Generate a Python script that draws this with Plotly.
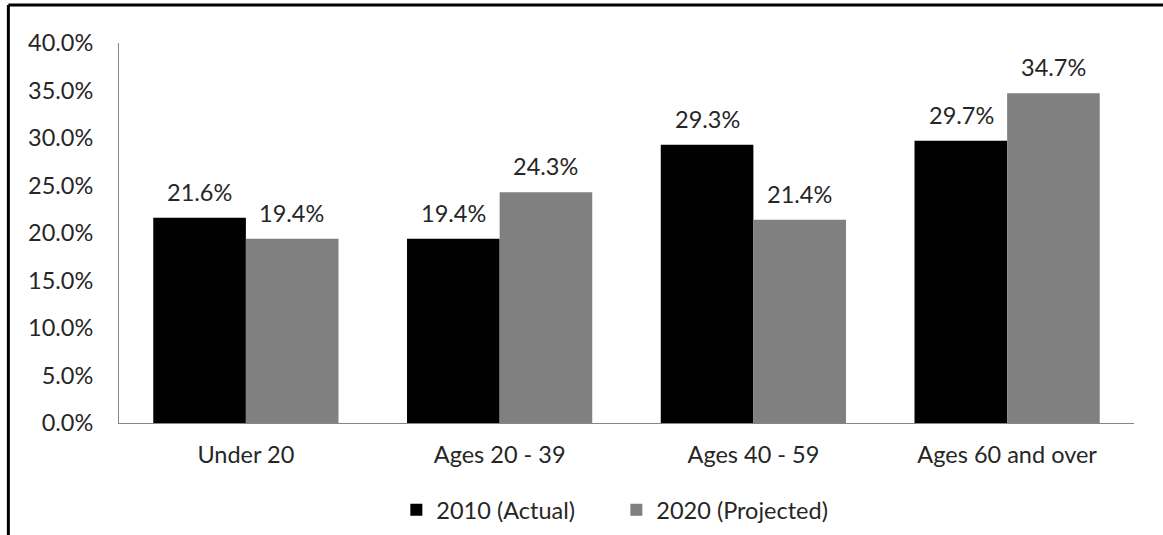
import plotly.graph_objects as go

categories = ["Under 20", "Ages 20 - 39", "Ages 40 - 59", "Ages 60 and over"]
series_names = ["2010 (Actual)", "2020 (Projected)"]
values_2010 = [21.6, 19.4, 29.3, 29.7]
values_2020 = [19.4, 24.3, 21.4, 34.7]
colors = ["#000000", "#808080"]
y_ticks = [0, 5, 10, 15, 20, 25, 30, 35, 40]
y_tick_labels = [f"{v:.1f}%" for v in y_ticks]

FONT = "Lato"
FS = 23.5
TXT = "#262626"

fig = go.Figure()
for name, vals, col in zip(series_names, [values_2010, values_2020], colors):
    fig.add_trace(go.Bar(
        x=categories, y=vals, name=name,
        marker=dict(color=col, line=dict(width=0)),
        text=[f"{v:.1f}%" for v in vals],
        textposition="none",
        hoverinfo="x+y",
    ))

annotations = []
for i, vals in enumerate([values_2010, values_2020]):
    shift = -46 if i == 0 else 46
    for c, v in zip(categories, vals):
        annotations.append(dict(
            x=c, y=v, xref="x", yref="y", text=f"{v:.1f}%",
            showarrow=False, xshift=shift, yshift=10, yanchor="bottom",
            font=dict(family=FONT, size=FS, color=TXT),
        ))

fig.update_layout(
    width=1163, height=535,
    margin=dict(l=119, r=29, t=43, b=112, autoexpand=False),
    paper_bgcolor="white", plot_bgcolor="white",
    barmode="group", bargap=0.27, bargroupgap=0,
    font=dict(family=FONT, size=FS, color=TXT),
    showlegend=True,
    legend=dict(orientation="h", x=0.49, xanchor="center", y=-0.229, yanchor="middle",
                font=dict(family=FONT, size=FS, color=TXT), itemwidth=30,
                entrywidth=175, traceorder="normal"),
    annotations=annotations,
    xaxis=dict(showline=True, linecolor="#868686", linewidth=1, ticks="",
               showgrid=False, ticklabelstandoff=11, tickfont=dict(size=FS),
               automargin=False),
    yaxis=dict(range=[0, 40], tickvals=y_ticks, ticktext=y_tick_labels,
               showline=True, linecolor="#868686", linewidth=1, ticks="",
               showgrid=False, zeroline=False, ticklabelstandoff=20,
               tickfont=dict(size=FS), automargin=False),
    shapes=[
        dict(type="line", xref="paper", yref="paper", x0=-0.109, x1=1.1, y0=1.1, y1=1.1,
             line=dict(color="black", width=3), layer="above"),
        dict(type="line", xref="paper", yref="paper", x0=-0.109, x1=-0.109, y0=-0.3, y1=1.1,
             line=dict(color="black", width=3), layer="above"),
    ],
)

fig.write_html("out.html")
